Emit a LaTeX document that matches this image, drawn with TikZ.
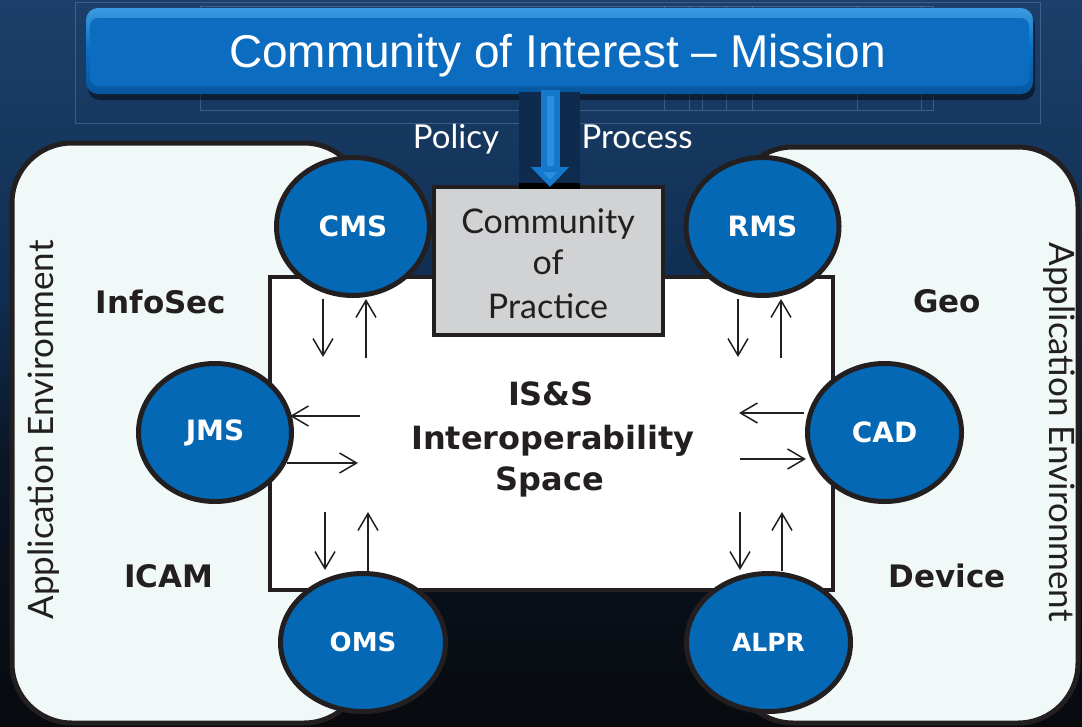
\documentclass[tikz,border=0pt]{standalone}
\usepackage{fontspec}
\setmainfont{Lato}
\newfontfamily\lsans{Liberation Sans}
\newfontfamily\bsans{DejaVu Sans}
\usetikzlibrary{shapes.geometric,arrows.meta}
\definecolor{bgtop}{HTML}{1C406B}
\definecolor{bgmid}{HTML}{0F2D50}
\definecolor{bgdark}{HTML}{0A1625}
\definecolor{bgbot}{HTML}{080A0E}
\definecolor{bannerblue}{HTML}{0B6CC0}
\definecolor{bannerlight}{HTML}{3A9BE2}
\definecolor{bannerdark}{HTML}{07569E}
\definecolor{arrblue}{HTML}{1479CC}
\definecolor{arrlight}{HTML}{2A90DD}
\definecolor{arrback}{HTML}{0E2B4E}
\definecolor{linec}{HTML}{231F20}
\definecolor{circblue}{HTML}{0468B4}
\definecolor{panelfill}{HTML}{F1F9F8}
\definecolor{copgray}{HTML}{D1D2D4}
\definecolor{faint}{HTML}{5A7BA6}
\begin{document}
\begin{tikzpicture}[x=1pt,y=-1pt,
  panel/.style={draw=linec,line width=5pt,fill=panelfill,rounded corners=60pt},
  circ/.style={ellipse,draw=linec,line width=5pt,fill=circblue,inner sep=0pt,
    minimum width=153pt,minimum height=138pt,text=white,
    font=\bsans\bfseries\fontsize{28}{30}\selectfont},
  sarr/.style={draw=linec,line width=1.5pt,-{Straight Barb[length=17pt,width=20pt]}},
  boldlbl/.style={text=linec,font=\bsans\bfseries\fontsize{32}{36}\selectfont,anchor=base,inner sep=0pt},
  lightlbl/.style={font=\fontsize{33}{36}\selectfont,anchor=base,inner sep=0pt},
  faintline/.style={draw=faint,line width=0.8pt,opacity=0.55}]
\useasboundingbox (0,0) rectangle (1082,726);
% background
\shade[top color=bgtop,bottom color=bgmid] (0,0) rectangle (1082,300);
\shade[top color=bgmid,bottom color=bgdark] (0,299.5) rectangle (1082,460);
\shade[top color=bgdark,bottom color=bgbot] (0,459.5) rectangle (1082,726);
% faint artifact frames
\draw[faintline] (75,2) rectangle (1040,123);
\draw[faintline] (200,6) rectangle (933,110);
\foreach \xx in {664,689,702,726,752,857,921}
  \draw[faintline] (\xx,6) -- (\xx,110);
% banner
\fill[black,opacity=0.45,rounded corners=12pt] (88,14) rectangle (1035,100);
\shade[top color=bannerlight,bottom color=bannerdark,middle color=bannerblue,rounded corners=12pt] (86,8) rectangle (1033,94);
\fill[bannerblue,rounded corners=8pt] (90,18) rectangle (1029,86);
\node[text=white,font=\lsans\fontsize{46}{50}\selectfont,anchor=base,inner sep=0pt] (banner) at (557.5,67) {Community of Interest – Mission};
% policy/process
\node[lightlbl,text=white] (policy) at (456,148) {Policy};
\node[lightlbl,text=white] (process) at (637,148) {Process};
% panels
\draw[panel] (12,143) rectangle (364,723);
\draw[panel] (733,147) rectangle (1078,723);
% IS&S box
\draw[draw=linec,line width=4.5pt,fill=white] (270,277) rectangle (833,590);
\node[boldlbl] (iss1) at (551,405) {IS\&S};
\node[boldlbl] (iss2) at (553,449) {Interoperability};
\node[boldlbl] (iss3) at (550,490) {Space};
% arrow backing
\fill[arrback] (519,92) rectangle (580,184);
% community of practice
\node[draw=linec,line width=4pt,fill=copgray,minimum width=229pt,minimum height=148pt,inner sep=0pt] (cop) at (548.5,261) {};
\node[lightlbl,text=linec,font=\fontsize{34}{36}\selectfont] (cop1) at (548,233) {Community};
\node[lightlbl,text=linec,font=\fontsize{34}{36}\selectfont] (cop2) at (548,274) {of};
\node[lightlbl,text=linec,font=\fontsize{34}{36}\selectfont] (cop3) at (548,318) {Practice};
\fill[black] (519,183) rectangle (580,189);
% big arrow
\coordinate (arrtop) at (550,90);
\coordinate (arrtip) at (550,187);
\draw[line width=19pt,draw=arrblue,-{Triangle[length=20pt,width=37pt,fill=arrlight]}] (arrtop) -- (arrtip);
\draw[line width=7pt,draw=arrlight] (550,96) -- (550,166);
% application environment
\node[lightlbl,text=linec,font=\fontsize{35}{36}\selectfont,rotate=90] (appl) at (53,430) {Application Environment};
\node[lightlbl,text=linec,font=\fontsize{35}{36}\selectfont,rotate=-90] (appr) at (1049,432) {Application Environment};
% domain labels
\node[boldlbl,font=\bsans\bfseries\fontsize{31}{34}\selectfont] (infosec) at (161,313) {InfoSec};
\node[boldlbl,font=\bsans\bfseries\fontsize{31}{34}\selectfont] (icam) at (169,587) {ICAM};
\node[boldlbl,font=\bsans\bfseries\fontsize{31}{34}\selectfont] (geo) at (947,312) {Geo};
\node[boldlbl,font=\bsans\bfseries\fontsize{31}{34}\selectfont] (device) at (947,587) {Device};
% circles
\node[circ] (cms) at (353,226.5) {CMS};
\node[circ] (rms) at (762.5,226.5) {RMS};
\node[circ] (jms) at (215,432.5) {JMS};
\node[circ,minimum width=154pt] (cad) at (884.5,432.5) {CAD};
\node[circ,minimum width=165pt,font=\bsans\bfseries\fontsize{26}{30}\selectfont] (oms) at (363,642.5) {OMS};
\node[circ,minimum width=164pt,font=\bsans\bfseries\fontsize{25}{30}\selectfont] (alpr) at (768.5,642.5) {ALPR};
% small arrows
\coordinate (cmsA) at (323,299); \coordinate (cmsB) at (323,357);
\coordinate (cmsC) at (366,358); \coordinate (cmsD) at (366,299);
\draw[sarr] (cmsA) -- (cmsB); \draw[sarr] (cmsC) -- (cmsD);
\coordinate (rmsA) at (738,299); \coordinate (rmsB) at (738,357);
\coordinate (rmsC) at (781,358); \coordinate (rmsD) at (781,299);
\draw[sarr] (rmsA) -- (rmsB); \draw[sarr] (rmsC) -- (rmsD);
\coordinate (jmsA) at (360,416); \coordinate (jmsB) at (290,416);
\coordinate (jmsC) at (287,463); \coordinate (jmsD) at (358,463);
\draw[sarr] (jmsA) -- (jmsB); \draw[sarr] (jmsC) -- (jmsD);
\coordinate (cadA) at (804,413); \coordinate (cadB) at (739,413);
\coordinate (cadC) at (740,459); \coordinate (cadD) at (806,459);
\draw[sarr] (cadA) -- (cadB); \draw[sarr] (cadC) -- (cadD);
\coordinate (omsA) at (325,512); \coordinate (omsB) at (325,570);
\coordinate (omsC) at (368,571); \coordinate (omsD) at (368,512);
\draw[sarr] (omsA) -- (omsB); \draw[sarr] (omsC) -- (omsD);
\coordinate (alprA) at (740,512); \coordinate (alprB) at (740,570);
\coordinate (alprC) at (782,571); \coordinate (alprD) at (782,512);
\draw[sarr] (alprA) -- (alprB); \draw[sarr] (alprC) -- (alprD);
\end{tikzpicture}
\end{document}
